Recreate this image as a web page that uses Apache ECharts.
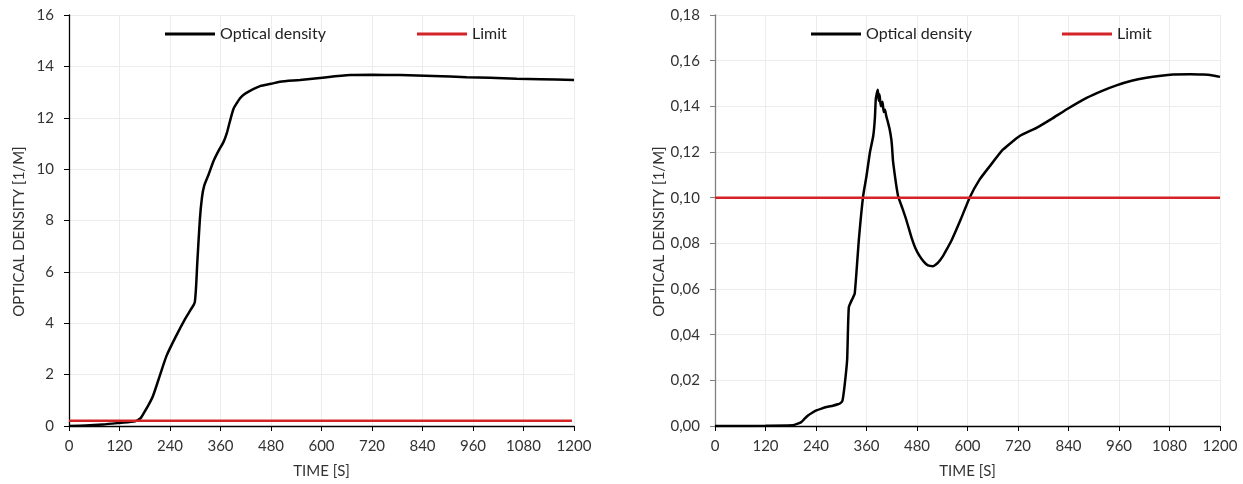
<!DOCTYPE html>
<html>
<head>
<meta charset="utf-8">
<script src="https://cdn.jsdelivr.net/npm/echarts@6/dist/echarts.min.js"></script>
<style>
html,body{margin:0;padding:0;background:#fff;}
#chart{width:1243px;height:484px;}
</style>
</head>
<body>
<div id="chart"></div>
<script>
// ---- Data ----
const xTicks = [0, 120, 240, 360, 480, 600, 720, 840, 960, 1080, 1200];

// Left chart: optical density (time [s], value [1/m])
const timeA = [0, 40, 80, 120, 157, 170, 177, 190, 200, 216, 232, 255, 276, 290, 299, 305, 311, 316, 321, 332, 343, 355, 367, 375, 383, 391, 398, 406, 415, 430, 454, 480, 501, 549, 596, 668, 720, 787, 866, 945, 1000, 1064, 1120, 1200];
const densityA = [0, 0.02, 0.06, 0.12, 0.18, 0.3, 0.48, 0.85, 1.19, 1.97, 2.74, 3.52, 4.17, 4.55, 4.82, 6.4, 8.05, 8.9, 9.34, 9.8, 10.3, 10.7, 11.05, 11.4, 11.9, 12.35, 12.55, 12.75, 12.9, 13.05, 13.23, 13.32, 13.4, 13.47, 13.55, 13.66, 13.67, 13.66, 13.63, 13.58, 13.56, 13.52, 13.5, 13.47];
const limitTimeA = [0, 1195];
const limitA = [0.2, 0.2];

// Right chart: optical density (time [s], value [1/m])
const timeB = [0, 60, 120, 185, 195, 205, 213, 221, 230, 241, 253, 265, 280, 292, 298, 303, 308, 314, 318, 328, 332, 336, 342, 352, 360, 368, 376, 380, 382, 385, 387, 389, 391, 393, 395, 398, 401, 404, 407, 411, 415, 419, 421, 423, 435, 445, 455, 467, 476, 486, 496, 506, 518, 530, 542, 552, 562, 584, 605, 629, 653, 684, 724, 764, 800, 835, 883, 920, 954, 990, 1025, 1060, 1088, 1130, 1160, 1180, 1200];
const densityB = [0, 0, 0.0001, 0.0003, 0.0009, 0.0017, 0.0032, 0.0046, 0.0057, 0.0068, 0.0076, 0.0083, 0.0089, 0.0095, 0.0100, 0.0112, 0.0178, 0.029, 0.052, 0.0563, 0.058, 0.067, 0.082, 0.1007, 0.1095, 0.1197, 0.127, 0.135, 0.143, 0.146, 0.1473, 0.1425, 0.1452, 0.1415, 0.140, 0.142, 0.1375, 0.1385, 0.1357, 0.133, 0.130, 0.1255, 0.1215, 0.116, 0.1007, 0.0955, 0.0900, 0.0825, 0.0780, 0.0745, 0.0720, 0.0703, 0.0700, 0.0715, 0.0745, 0.0778, 0.0812, 0.0905, 0.1000, 0.108, 0.1138, 0.1210, 0.1270, 0.1306, 0.1345, 0.1386, 0.1437, 0.1468, 0.1492, 0.1512, 0.1525, 0.1534, 0.1539, 0.1541, 0.1539, 0.1536, 0.1529];
const limitTimeB = [0, 1200];
const limitB = [0.1, 0.1];

const seriesNames = ['Optical density', 'Limit'];
const xName = 'TIME [S]';
const yName = 'OPTICAL DENSITY [1/M]';

// ---- Build ----
const pair = (xs, ys) => xs.map((x, i) => [x, ys[i]]);
const FONT = 'Lato';
const TEXT = '#333';
const GRIDC = '#ececec';
const RED = '#d42326';
const FS = 15;

function xAxisCfg(gridIndex) {
  return {
    type: 'value', gridIndex, min: 0, max: 1200, interval: 120,
    name: xName, nameLocation: 'middle', nameGap: 38,
    nameTextStyle: { fontFamily: FONT, fontSize: FS, color: TEXT },
    axisLine: { onZero: false, lineStyle: { color: '#000', width: 1.3 } },
    axisTick: { show: true, length: 5, lineStyle: { color: '#000' } },
    axisLabel: { fontFamily: FONT, fontSize: FS, color: TEXT, margin: 13, formatter: v => String(v) },
    splitLine: { show: true, lineStyle: { color: GRIDC, width: 1 } }
  };
}
function yAxisCfg(gridIndex, max, interval, fmt, axisColor) {
  return {
    type: 'value', gridIndex, min: 0, max, interval,
    name: yName, nameLocation: 'middle', nameGap: 42, nameRotate: 90,
    nameTextStyle: { fontFamily: FONT, fontSize: FS, color: TEXT, padding: [0, 22, 0, 0] },
    axisLine: { show: true, lineStyle: { color: axisColor, width: 1.3 } },
    axisTick: { show: true, length: 5, lineStyle: { color: axisColor } },
    axisLabel: { fontFamily: FONT, fontSize: FS, color: TEXT, margin: 15, formatter: fmt },
    splitLine: { show: true, lineStyle: { color: GRIDC, width: 1 } }
  };
}
function legendCfg(name, left) {
  return {
    data: [name], left, top: 21, itemWidth: 50, itemHeight: 14, itemGap: 0,
    textStyle: { fontFamily: FONT, fontSize: 16, color: '#222' },
    icon: 'path://M0,6 L50,6 L50,9 L0,9 Z'
  };
}

const chart = echarts.init(document.getElementById('chart'), null, { renderer: 'canvas' });
chart.setOption({
  animation: false,
  backgroundColor: '#fff',
  grid: [
    { left: 69, top: 15, width: 505, height: 412, containLabel: false },
    { left: 715, top: 15, width: 505, height: 412, containLabel: false }
  ],
  legend: [
    legendCfg(seriesNames[0], 160), legendCfg(seriesNames[1], 412),
    legendCfg(seriesNames[0], 806), legendCfg(seriesNames[1], 1057)
  ],
  xAxis: [xAxisCfg(0), xAxisCfg(1)],
  yAxis: [
    yAxisCfg(0, 16, 2, v => String(v), '#000'),
    yAxisCfg(1, 0.18, 0.02, v => v.toFixed(2).replace('.', ','), '#808080')
  ],
  series: [
    { name: seriesNames[0], type: 'line', xAxisIndex: 0, yAxisIndex: 0, data: pair(timeA, densityA),
      showSymbol: false, smooth: 0.25, lineStyle: { color: '#000', width: 2.5 }, itemStyle: { color: '#000' }, z: 3 },
    { name: seriesNames[1], type: 'line', xAxisIndex: 0, yAxisIndex: 0, data: pair(limitTimeA, limitA),
      showSymbol: false, lineStyle: { color: RED, width: 2.5 }, itemStyle: { color: RED }, z: 4 },
    { name: seriesNames[0], type: 'line', xAxisIndex: 1, yAxisIndex: 1, data: pair(timeB, densityB),
      showSymbol: false, smooth: 0.15, lineStyle: { color: '#000', width: 2.5 }, itemStyle: { color: '#000' }, z: 3 },
    { name: seriesNames[1], type: 'line', xAxisIndex: 1, yAxisIndex: 1, data: pair(limitTimeB, limitB),
      showSymbol: false, lineStyle: { color: RED, width: 2.5 }, itemStyle: { color: RED }, z: 4 }
  ]
});
</script>
</body>
</html>
